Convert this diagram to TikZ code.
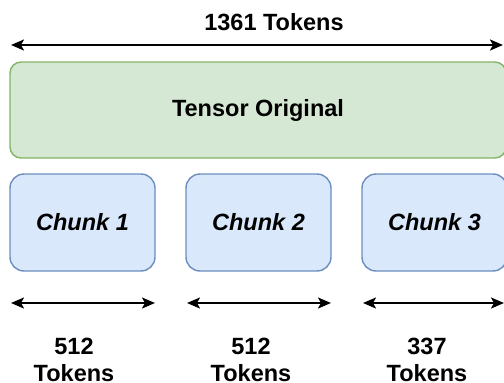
\documentclass[tikz,border=0pt]{standalone}
\usepackage{fontspec}
\setmainfont{Liberation Sans}
\usetikzlibrary{arrows.meta}
\definecolor{greenfill}{HTML}{D5E8D4}
\definecolor{greenline}{HTML}{82B366}
\definecolor{bluefill}{HTML}{DAE8FC}
\definecolor{blueline}{HTML}{6C8EBF}
\tikzset{
  base/.style={font=\fontsize{23.5}{27.5}\selectfont\bfseries},
  whole/.style={base, draw=greenline, fill=greenfill, line width=1.4pt,
    rounded corners=11pt, minimum width=496pt, minimum height=96pt, inner sep=0pt},
  chunkbox/.style={base, draw=blueline, fill=bluefill, line width=1.4pt,
    rounded corners=14pt, minimum width=145pt, minimum height=97pt, inner sep=0pt},
  label/.style={base, align=center, inner sep=0pt},
  span/.style={line width=2pt, {Stealth[length=13pt,width=11pt,inset=3pt]}-{Stealth[length=13pt,width=11pt,inset=3pt]}}
}
\begin{document}
\begin{tikzpicture}[x=1pt,y=-1pt]
  \useasboundingbox (0,0) rectangle (504,383);
  \clip (0,0) rectangle (504,383);

  % overall length
  \node[label] (total) at (274,22) {1361 Tokens};
  \coordinate (tl) at (11,45);
  \coordinate (tr) at (503,45);
  \draw[span] (tl) -- (tr);

  % original tensor
  \node[whole] (orig) at (258,110) {Tensor Original};

  % chunks
  \node[chunkbox] (c1) at (82.5,222.5) {\itshape Chunk 1};
  \node[chunkbox] (c2) at (258.5,222.5) {\itshape Chunk 2};
  \node[chunkbox] (c3) at (434.5,222.5) {\itshape Chunk 3};

  % chunk lengths
  \coordinate (a1) at (11,303);  \coordinate (b1) at (155,303);
  \coordinate (a2) at (187,303); \coordinate (b2) at (331,303);
  \coordinate (a3) at (363,303); \coordinate (b3) at (504,303);
  \draw[span] (a1) -- (b1);
  \draw[span] (a2) -- (b2);
  \draw[span] (a3) -- (b3);

  \node[label] (n1) at (74,360) {512\\Tokens};
  \node[label] (n2) at (251,360) {512\\Tokens};
  \node[label] (n3) at (427,360) {337\\Tokens};
\end{tikzpicture}
\end{document}
